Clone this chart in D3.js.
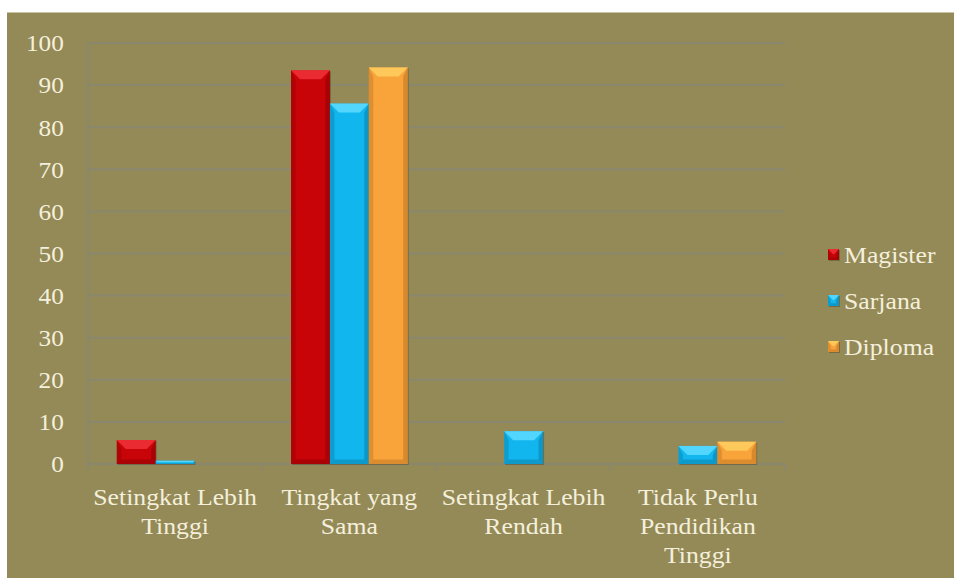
<!DOCTYPE html>
<html lang="en">
  <head>
    <meta charset="utf-8">
    <title>Kesesuaian Tingkat Pendidikan</title>
    <style>
      body { margin: 0; background: #fff; }
      svg text { font-family: "Liberation Serif", "DejaVu Serif", serif; fill: #f4f0dc; }
    </style>
  </head>
  <body>

<script src="https://d3js.org/d3.v7.min.js"></script>

<script>
// categories (one entry per line of the wrapped label)
var categories = [
  ["Setingkat Lebih", "Tinggi"],
  ["Tingkat yang", "Sama"],
  ["Setingkat Lebih", "Rendah"],
  ["Tidak Perlu", "Pendidikan", "Tinggi"]
];
var series = ["Magister", "Sarjana", "Diploma"];
var magister = [5.7, 93.5, 0, 0];
var sarjana  = [0.8, 85.6, 7.8, 4.3];
var diploma  = [0, 94.2, 0, 5.3];
var yTicks = [0, 10, 20, 30, 40, 50, 60, 70, 80, 90, 100];

var colors = {
  Magister: {base: "#c90408", light: "#f0323a", dark: "#7e0204"},
  Sarjana:  {base: "#12b6ee", light: "#5fdcff", dark: "#0a6f95"},
  Diploma:  {base: "#f9a33b", light: "#ffd060", dark: "#b06a1c"}
};

var FONT = '"Liberation Serif", "DejaVu Serif", serif';

var W = 954, H = 578;
var plot = {left: 88, right: 785, top: 43, bottom: 464};

var svg = d3.select('body').append('svg')
  .attr('width', W)
  .attr('height', H);

// olive panel
svg.append('rect')
  .attr('x', 7).attr('y', 12)
  .attr('width', W - 7).attr('height', H - 12)
  .attr('fill', '#948a58');
svg.append('line')
  .attr('x1', 7).attr('x2', W).attr('y1', 12.5).attr('y2', 12.5)
  .attr('stroke', '#c8c4a4').attr('stroke-width', 1);

var rows = categories.map(function(c, i) {
  return {key: i, values: [magister[i], sarjana[i], diploma[i]]};
});

var x0 = d3.scaleBand()
  .domain(d3.range(categories.length))
  .range([plot.left, plot.right])
  .padding(0);

var x1 = d3.scaleBand()
  .domain(series)
  .range([0, x0.bandwidth()])
  .paddingInner(0)
  .paddingOuter(0.74);

var y = d3.scaleLinear()
  .domain([0, 100])
  .range([plot.bottom, plot.top]);

// gridlines
svg.append('g')
  .selectAll('line')
  .data(yTicks)
  .enter()
  .append('line')
    .attr('x1', plot.left).attr('x2', plot.right)
    .attr('y1', function(d) { return y(d); })
    .attr('y2', function(d) { return y(d); })
    .attr('stroke', '#8a876f')
    .attr('stroke-width', 2);

// y axis line
svg.append('line')
  .attr('x1', plot.left).attr('x2', plot.left)
  .attr('y1', plot.top).attr('y2', plot.bottom + 5)
  .attr('stroke', '#8a876f').attr('stroke-width', 2);

// x category tick marks
svg.append('g')
  .selectAll('line')
  .data(d3.range(categories.length + 1))
  .enter()
  .append('line')
    .attr('x1', function(d) { return plot.left + d * x0.step(); })
    .attr('x2', function(d) { return plot.left + d * x0.step(); })
    .attr('y1', plot.bottom).attr('y2', plot.bottom + 6)
    .attr('stroke', '#8a876f').attr('stroke-width', 2);

// y labels
var yAxis = d3.axisLeft(y).tickValues(yTicks).tickSize(0).tickPadding(22);
var ya = svg.append('g')
  .attr('transform', 'translate(' + plot.left + ',0)')
  .call(yAxis)
  .attr('font-family', FONT)
  .attr('font-size', 23);
ya.select('.domain').remove();
ya.selectAll('text')
  .attr('fill', null)
  .style('font-family', FONT)
  .attr('transform', 'scale(1.1,1)')
  .attr('dy', '0.34em');

// bevelled bar shape
function drawBar(g, x, yTop, w, h, c) {
  if (h <= 0) return;
  var b = Math.min(9, h / 2, w / 2);
  var x2 = x + w, y2 = yTop + h;
  g.append('rect')
    .attr('x', x + 1).attr('y', yTop + 1).attr('width', w).attr('height', h)
    .attr('fill', 'rgba(60,50,20,0.35)');
  g.append('rect')
    .attr('x', x).attr('y', yTop).attr('width', w).attr('height', h)
    .attr('fill', c.base);
  // top face
  g.append('polygon')
    .attr('points', [[x, yTop], [x2, yTop], [x2 - b, yTop + b], [x + b, yTop + b]].join(' '))
    .attr('fill', c.light).attr('opacity', 0.85);
  // left face
  g.append('polygon')
    .attr('points', [[x, yTop], [x + b * 0.5, yTop + b], [x + b * 0.5, y2 - b * 0.5], [x, y2]].join(' '))
    .attr('fill', c.dark).attr('opacity', 0.35);
  // right face
  g.append('polygon')
    .attr('points', [[x2, yTop], [x2 - b * 0.5, yTop + b], [x2 - b * 0.5, y2 - b * 0.5], [x2, y2]].join(' '))
    .attr('fill', c.dark).attr('opacity', 0.45);
  // bottom face
  g.append('polygon')
    .attr('points', [[x, y2], [x2, y2], [x2 - b * 0.5, y2 - b * 0.5], [x + b * 0.5, y2 - b * 0.5]].join(' '))
    .attr('fill', c.dark).attr('opacity', 0.4);
}

var bars = svg.append('g');
rows.forEach(function(r) {
  series.forEach(function(s, j) {
    var v = r.values[j];
    var bx = x0(r.key) + x1(s);
    drawBar(bars, bx, y(v), x1.bandwidth(), y(0) - y(v), colors[s]);
  });
});

// category labels (slightly widened like the original rendering)
var cat = svg.append('g')
  .selectAll('g')
  .data(categories)
  .enter()
  .append('g')
    .attr('transform', function(d, i) {
      return 'translate(' + (x0(i) + x0.bandwidth() / 2) + ',505) scale(1.12,1)';
    })
  .append('text')
    .attr('text-anchor', 'middle')
    .attr('font-size', 23)
    .style('font-family', FONT);
cat.selectAll('tspan')
  .data(function(d) { return d; })
  .enter()
  .append('tspan')
    .attr('x', 0)
    .attr('dy', function(d, i) { return i === 0 ? 0 : 29; })
    .text(function(d) { return d; });

// legend
var legend = svg.append('g')
  .selectAll('g')
  .data(series)
  .enter()
  .append('g')
    .attr('transform', function(d, i) { return 'translate(828,' + (249 + i * 46) + ')'; });
legend.each(function(s) {
  drawBar(d3.select(this), 0, 0, 11, 11, colors[s]);
});
legend.append('text')
  .attr('transform', 'translate(16,6) scale(1.12,1)')
  .attr('dy', '0.35em')
  .attr('font-size', 23)
  .style('font-family', FONT)
  .text(function(d) { return d; });

</script>

  </body>
</html>
